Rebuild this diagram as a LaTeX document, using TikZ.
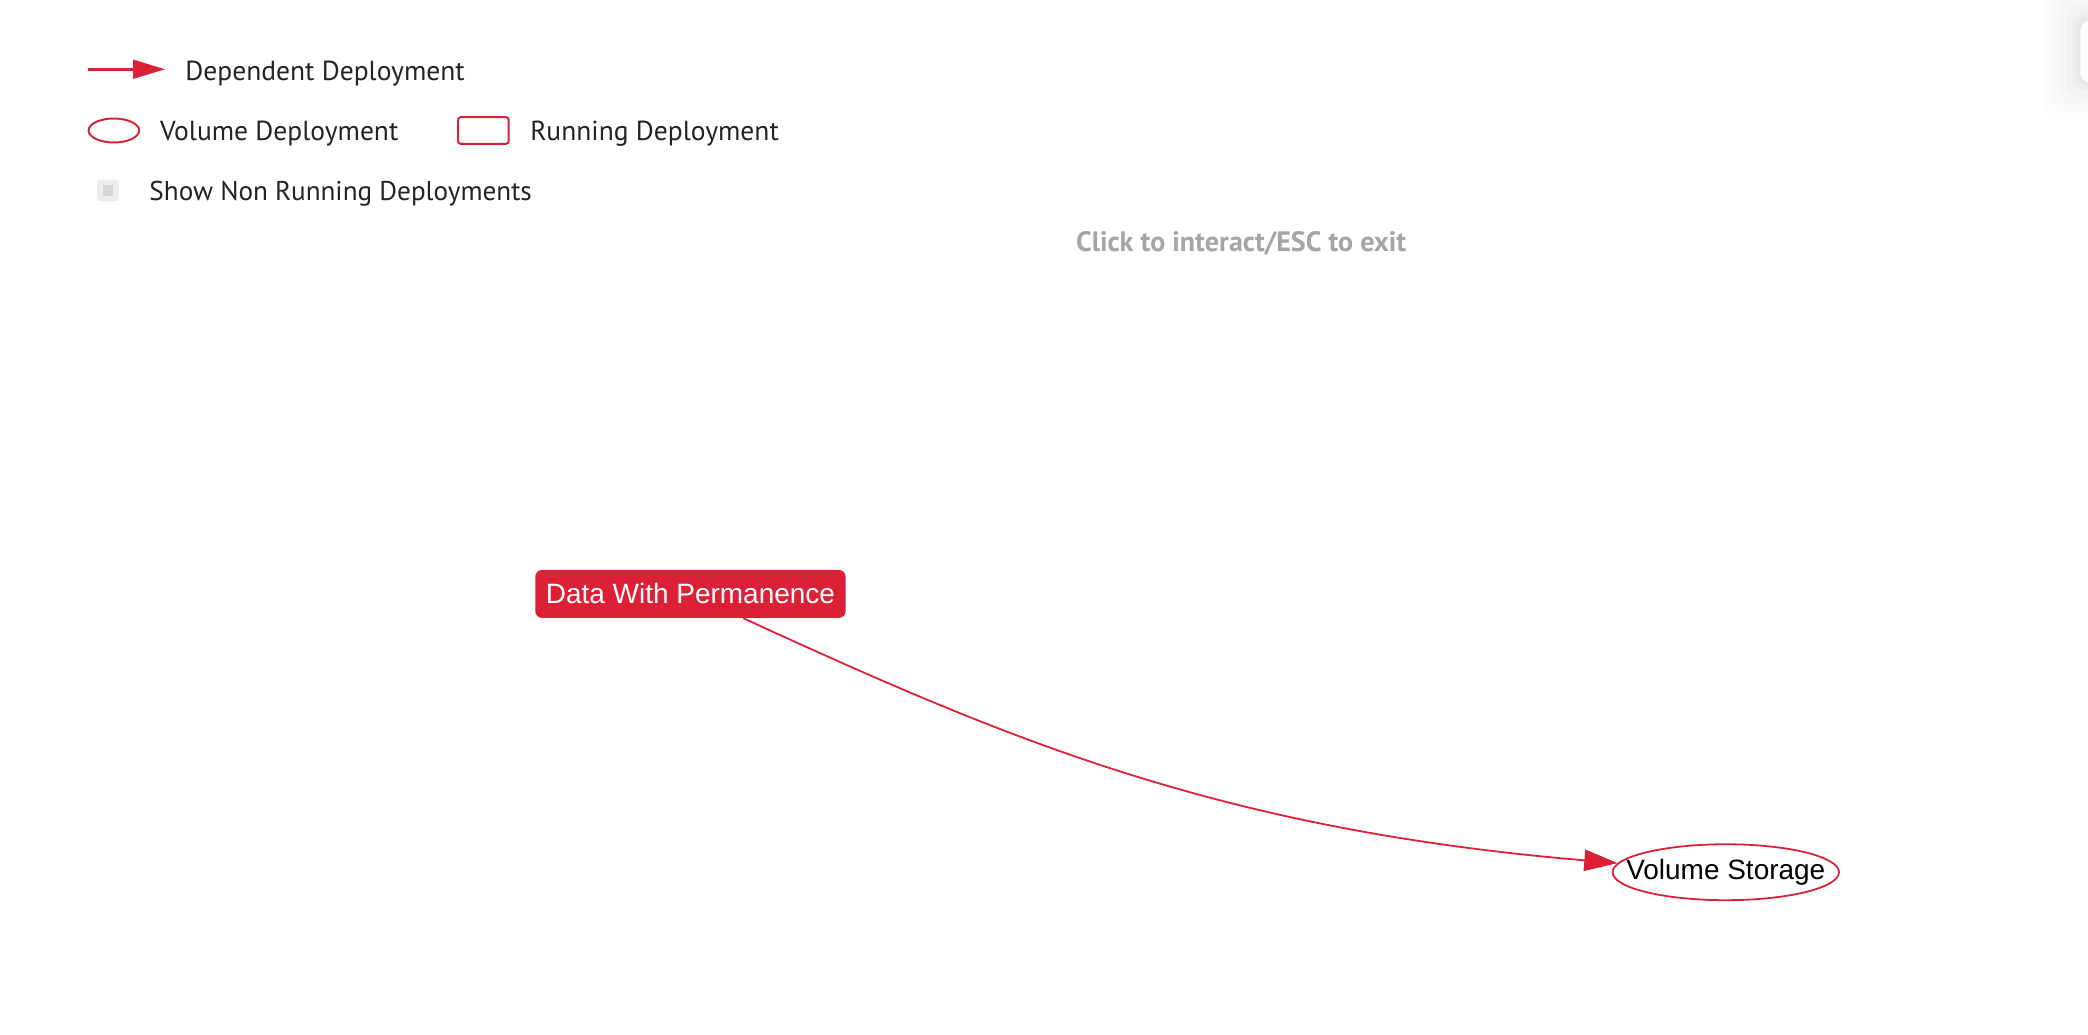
\documentclass[tikz,border=0pt]{standalone}
\usepackage{fontspec}
\setmainfont{PT Sans}
\newfontfamily\arialfont{Liberation Sans}
\usetikzlibrary{shapes.geometric,arrows.meta}
\definecolor{vred}{RGB}{220,32,53}
\definecolor{legtext}{RGB}{35,35,35}
\definecolor{hintgray}{RGB}{165,165,165}
\definecolor{boxgray}{RGB}{236,236,236}
\definecolor{boxinner}{RGB}{214,214,214}
\tikzset{
  legendtext/.style={anchor=west, inner sep=0pt, text=legtext, font=\fontsize{15.5pt}{18pt}\selectfont},
  runbox/.style={rectangle, rounded corners=3.75pt, fill=vred, text=white, inner sep=0pt,
    minimum width=174.75pt, minimum height=27pt, font=\arialfont\fontsize{15.75pt}{18pt}\selectfont},
  volbox/.style={ellipse, draw=vred, line width=1pt, fill=white, text=black, inner sep=0pt,
    minimum width=127.5pt, minimum height=31.5pt, font=\arialfont\fontsize{15.75pt}{18pt}\selectfont},
  depedge/.style={draw=vred, line width=1pt, -{Triangle[length=18.75pt,width=12pt]}},
}
\begin{document}
\begin{tikzpicture}[x=0.75pt,y=-0.75pt]
\useasboundingbox[fill=white] (0,0) rectangle (1568,776.5);
% faint panel at top right
\foreach \s/\o in {28/0.008,22/0.01,16/0.013,11/0.016,6/0.02,3/0.022}{
  \fill[black,opacity=\o,rounded corners=8pt] (1562-\s,15-\s) rectangle (1620+\s,62+\s);
}
\node[rectangle, fill=white, rounded corners=6pt, minimum width=45pt, minimum height=35.25pt, inner sep=0pt, anchor=north west] (panel) at (1562,15) {};
% legend: dependent deployment
\coordinate (la1) at (66,52);
\coordinate (la2) at (124,52);
\draw[draw=vred, line width=1.5pt, -{Triangle[length=18pt,width=10.5pt]}] (la1) -- (la2);
\node[legendtext] (ltdep) at (139,55) {Dependent Deployment};
% legend: volume deployment
\node[ellipse, draw=vred, line width=1.1pt, minimum width=28.5pt, minimum height=13.5pt, inner sep=0pt] (lvol) at (85.5,98) {};
\node[legendtext] (ltvol) at (120,100.5) {Volume Deployment};
% legend: running deployment
\node[rectangle, draw=vred, line width=1.1pt, rounded corners=1.5pt, minimum width=28.5pt, minimum height=15pt, inner sep=0pt] (lrun) at (363,98) {};
\node[legendtext] (ltrun) at (398,100.5) {Running Deployment};
% legend: checkbox
\node[rectangle, fill=boxgray, rounded corners=1.5pt, minimum width=12pt, minimum height=12pt, inner sep=0pt] (chk) at (81,143) {};
\node[rectangle, fill=boxinner, minimum width=6pt, minimum height=6pt, inner sep=0pt] (chkin) at (81,143) {};
\node[legendtext, font=\fontsize{15.3pt}{18pt}\selectfont] (ltchk) at (112,145.5) {Show Non Running Deployments};
% hint
\node[inner sep=0pt, text=hintgray, font=\bfseries\fontsize{15.8pt}{18pt}\selectfont] (hint) at (932,183) {Click to interact/ESC to exit};
% graph
\node[runbox] (dwp) at (518.5,446) {Data With Permanence};
\node[volbox] (vs) at (1296,655) {\makebox[0pt]{Volume Storage}};
\draw[depedge] (dwp) .. controls (758,556) and (916,623) .. (vs);
\end{tikzpicture}
\end{document}
